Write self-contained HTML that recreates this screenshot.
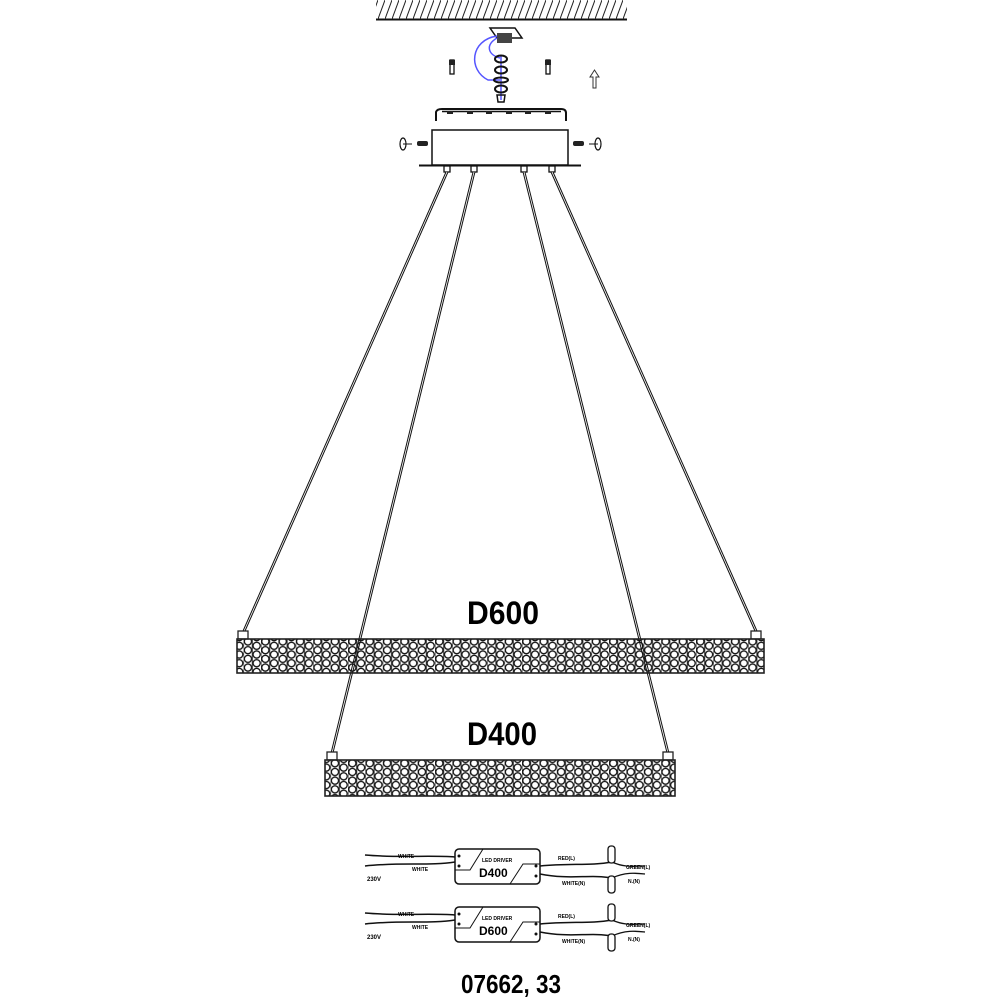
<!DOCTYPE html>
<html><head><meta charset="utf-8"><style>
html,body{margin:0;padding:0;background:#fff;}
svg{display:block;}
text{font-family:"Liberation Sans",sans-serif;font-weight:bold;}
</style></head><body>
<svg width="1000" height="1000" viewBox="0 0 1000 1000" xmlns="http://www.w3.org/2000/svg">
<defs>
<pattern id="hatch" width="7" height="19" patternUnits="userSpaceOnUse">
<line x1="0" y1="19" x2="7" y2="0" stroke="#222" stroke-width="1"/>
</pattern>
<pattern id="hex" x="0" y="2" width="17.4" height="8.7" patternUnits="userSpaceOnUse">
<circle cx="4.35" cy="4.35" r="3.6" fill="none" stroke="#111" stroke-width="1.3"/>
<circle cx="13.05" cy="0" r="3.6" fill="none" stroke="#111" stroke-width="1.3"/>
<circle cx="13.05" cy="8.7" r="3.6" fill="none" stroke="#111" stroke-width="1.3"/>
<line x1="8.7" y1="0" x2="8.7" y2="8.7" stroke="#222" stroke-width="1"/>
<line x1="0" y1="0" x2="0" y2="8.7" stroke="#222" stroke-width="1"/>
</pattern>
</defs>

<rect x="376" y="0" width="251" height="19" fill="url(#hatch)"/>
<line x1="376" y1="19.5" x2="627" y2="19.5" stroke="#111" stroke-width="2"/>

<polygon points="490,28 515,28 522,38 497,38" fill="#fff" stroke="#111" stroke-width="1.5"/>
<rect x="497" y="33" width="15" height="10" fill="#444"/>
<path d="M497,36 C470,40 468,70 488,80 L500,80" fill="none" stroke="#55f" stroke-width="1.5"/>
<path d="M497,38 C485,45 488,55 500,58" fill="none" stroke="#55f" stroke-width="1.5"/>
<line x1="501" y1="55" x2="501" y2="100" stroke="#55f" stroke-width="1.5"/>
<ellipse cx="501" cy="59" rx="6" ry="3.5" fill="none" stroke="#111" stroke-width="2"/>
<ellipse cx="501" cy="70" rx="6" ry="3.5" fill="none" stroke="#111" stroke-width="2"/>
<ellipse cx="501" cy="80" rx="7" ry="2.5" fill="none" stroke="#111" stroke-width="2"/>
<ellipse cx="501" cy="89" rx="6" ry="3.5" fill="none" stroke="#111" stroke-width="2"/>
<path d="M497,95 L505,95 L504,102 L498,102 Z" fill="none" stroke="#111" stroke-width="1.5"/>
<rect x="450" y="60" width="4" height="14" fill="none" stroke="#111" stroke-width="1.3"/>
<rect x="449" y="60" width="6" height="5" fill="#222"/>
<rect x="546" y="60" width="4" height="14" fill="none" stroke="#111" stroke-width="1.3"/>
<rect x="545" y="60" width="6" height="5" fill="#222"/>
<path d="M593,88 L593,77 L590,77 L594.5,70 L599,77 L596,77 L596,88 Z" fill="none" stroke="#333" stroke-width="1"/>

<path d="M436,121 L436,112 Q437,109 442,109 L561,109 Q566,109 566,113 L566,121" fill="none" stroke="#111" stroke-width="2"/>
<line x1="442" y1="111.5" x2="561" y2="111.5" stroke="#111" stroke-width="1.5"/>
<g fill="#222"><rect x="447" y="111" width="6" height="3"/><rect x="467" y="111" width="6" height="3"/><rect x="486" y="111" width="6" height="3"/><rect x="506" y="111" width="6" height="3"/><rect x="525" y="111" width="6" height="3"/><rect x="545" y="111" width="6" height="3"/></g>

<rect x="432" y="130" width="136" height="35" fill="#fff" stroke="#111" stroke-width="1.5"/>
<line x1="419" y1="165.5" x2="581" y2="165.5" stroke="#111" stroke-width="2"/>
<rect x="417" y="141" width="11" height="5" rx="2" fill="#222"/>
<rect x="573" y="141" width="11" height="5" rx="2" fill="#222"/>
<ellipse cx="403" cy="144" rx="3" ry="6" fill="none" stroke="#111" stroke-width="1.2"/>
<line x1="403" y1="144" x2="412" y2="144" stroke="#111"/>
<ellipse cx="598" cy="144" rx="3" ry="6" fill="none" stroke="#111" stroke-width="1.2"/>
<line x1="589" y1="144" x2="598" y2="144" stroke="#111"/>
<g fill="#fff" stroke="#111" stroke-width="1.3">
<rect x="444" y="166" width="6" height="6"/><rect x="471" y="166" width="6" height="6"/>
<rect x="521" y="166" width="6" height="6"/><rect x="549" y="166" width="6" height="6"/>
</g>

<g stroke="#111" stroke-width="2.8" fill="none">
<line x1="447" y1="172" x2="244" y2="631"/>
<line x1="474" y1="172" x2="332" y2="753"/>
<line x1="524" y1="172" x2="668" y2="753"/>
<line x1="552" y1="172" x2="756" y2="631"/>
</g>
<g stroke="#fff" stroke-width="0.8" fill="none">
<line x1="447" y1="172" x2="244" y2="631"/>
<line x1="474" y1="172" x2="332" y2="753"/>
<line x1="524" y1="172" x2="668" y2="753"/>
<line x1="552" y1="172" x2="756" y2="631"/>
</g>

<text x="467" y="624" font-size="32" textLength="72" lengthAdjust="spacingAndGlyphs">D600</text>
<rect x="238" y="631" width="10" height="8" fill="#fff" stroke="#222" stroke-width="1.3"/>
<rect x="751" y="631" width="10" height="8" fill="#fff" stroke="#222" stroke-width="1.3"/>
<rect x="237" y="639" width="527" height="34" fill="url(#hex)" stroke="#222" stroke-width="1.6"/>

<text x="467" y="745" font-size="32" textLength="70" lengthAdjust="spacingAndGlyphs">D400</text>
<rect x="327" y="752" width="10" height="8" fill="#fff" stroke="#222" stroke-width="1.3"/>
<rect x="663" y="752" width="10" height="8" fill="#fff" stroke="#222" stroke-width="1.3"/>
<rect x="325" y="760" width="350" height="36" fill="url(#hex)" stroke="#222" stroke-width="1.6"/>

<g>
<path d="M365,855 C400,858 430,855 455,857" fill="none" stroke="#111" stroke-width="1.5"/>
<path d="M365,866 C400,862 430,866 455,862" fill="none" stroke="#111" stroke-width="1.5"/>
<rect x="455" y="849" width="85" height="35" rx="4" fill="#fff" stroke="#111" stroke-width="1.5"/>
<path d="M483,849 L470,870 L455,870 M510,884 L523,864 L540,864" fill="none" stroke="#111" stroke-width="1"/>
<circle cx="459" cy="856" r="1.5" fill="#111"/><circle cx="459" cy="866" r="1.5" fill="#111"/>
<circle cx="536" cy="866" r="1.5" fill="#111"/><circle cx="536" cy="876" r="1.5" fill="#111"/>
<path d="M540,866 C570,863 590,866 612,862 M540,874 C570,880 590,874 612,878" fill="none" stroke="#111" stroke-width="1.5"/>
<path d="M612,862 C625,868 635,866 645,866 M612,878 C625,872 635,873 645,874" fill="none" stroke="#111" stroke-width="1.3"/>
<rect x="608" y="846" width="7" height="17" rx="3" fill="#fff" stroke="#111" stroke-width="1.3"/>
<rect x="608" y="876" width="7" height="17" rx="3" fill="#fff" stroke="#111" stroke-width="1.3"/>
<text x="398" y="858" font-size="5">WHITE</text>
<text x="412" y="871" font-size="5">WHITE</text>
<text x="367" y="881" font-size="6">230V</text>
<text x="482" y="862" font-size="5">LED DRIVER</text>
<text x="479" y="877" font-size="12" font-weight="normal">D400</text>
<text x="558" y="860" font-size="5">RED(L)</text>
<text x="562" y="885" font-size="5">WHITE(N)</text>
<text x="626" y="869" font-size="5">GREEN(L)</text>
<text x="628" y="883" font-size="5">N.(N)</text>
</g>
<g transform="translate(0,58)">
<path d="M365,855 C400,858 430,855 455,857" fill="none" stroke="#111" stroke-width="1.5"/>
<path d="M365,866 C400,862 430,866 455,862" fill="none" stroke="#111" stroke-width="1.5"/>
<rect x="455" y="849" width="85" height="35" rx="4" fill="#fff" stroke="#111" stroke-width="1.5"/>
<path d="M483,849 L470,870 L455,870 M510,884 L523,864 L540,864" fill="none" stroke="#111" stroke-width="1"/>
<circle cx="459" cy="856" r="1.5" fill="#111"/><circle cx="459" cy="866" r="1.5" fill="#111"/>
<circle cx="536" cy="866" r="1.5" fill="#111"/><circle cx="536" cy="876" r="1.5" fill="#111"/>
<path d="M540,866 C570,863 590,866 612,862 M540,874 C570,880 590,874 612,878" fill="none" stroke="#111" stroke-width="1.5"/>
<path d="M612,862 C625,868 635,866 645,866 M612,878 C625,872 635,873 645,874" fill="none" stroke="#111" stroke-width="1.3"/>
<rect x="608" y="846" width="7" height="17" rx="3" fill="#fff" stroke="#111" stroke-width="1.3"/>
<rect x="608" y="876" width="7" height="17" rx="3" fill="#fff" stroke="#111" stroke-width="1.3"/>
<text x="398" y="858" font-size="5">WHITE</text>
<text x="412" y="871" font-size="5">WHITE</text>
<text x="367" y="881" font-size="6">230V</text>
<text x="482" y="862" font-size="5">LED DRIVER</text>
<text x="479" y="877" font-size="12" font-weight="normal">D600</text>
<text x="558" y="860" font-size="5">RED(L)</text>
<text x="562" y="885" font-size="5">WHITE(N)</text>
<text x="626" y="869" font-size="5">GREEN(L)</text>
<text x="628" y="883" font-size="5">N.(N)</text>
</g>

<text x="461" y="993" font-size="26" textLength="100" lengthAdjust="spacingAndGlyphs">07662, 33</text>
</svg>
</body></html>
